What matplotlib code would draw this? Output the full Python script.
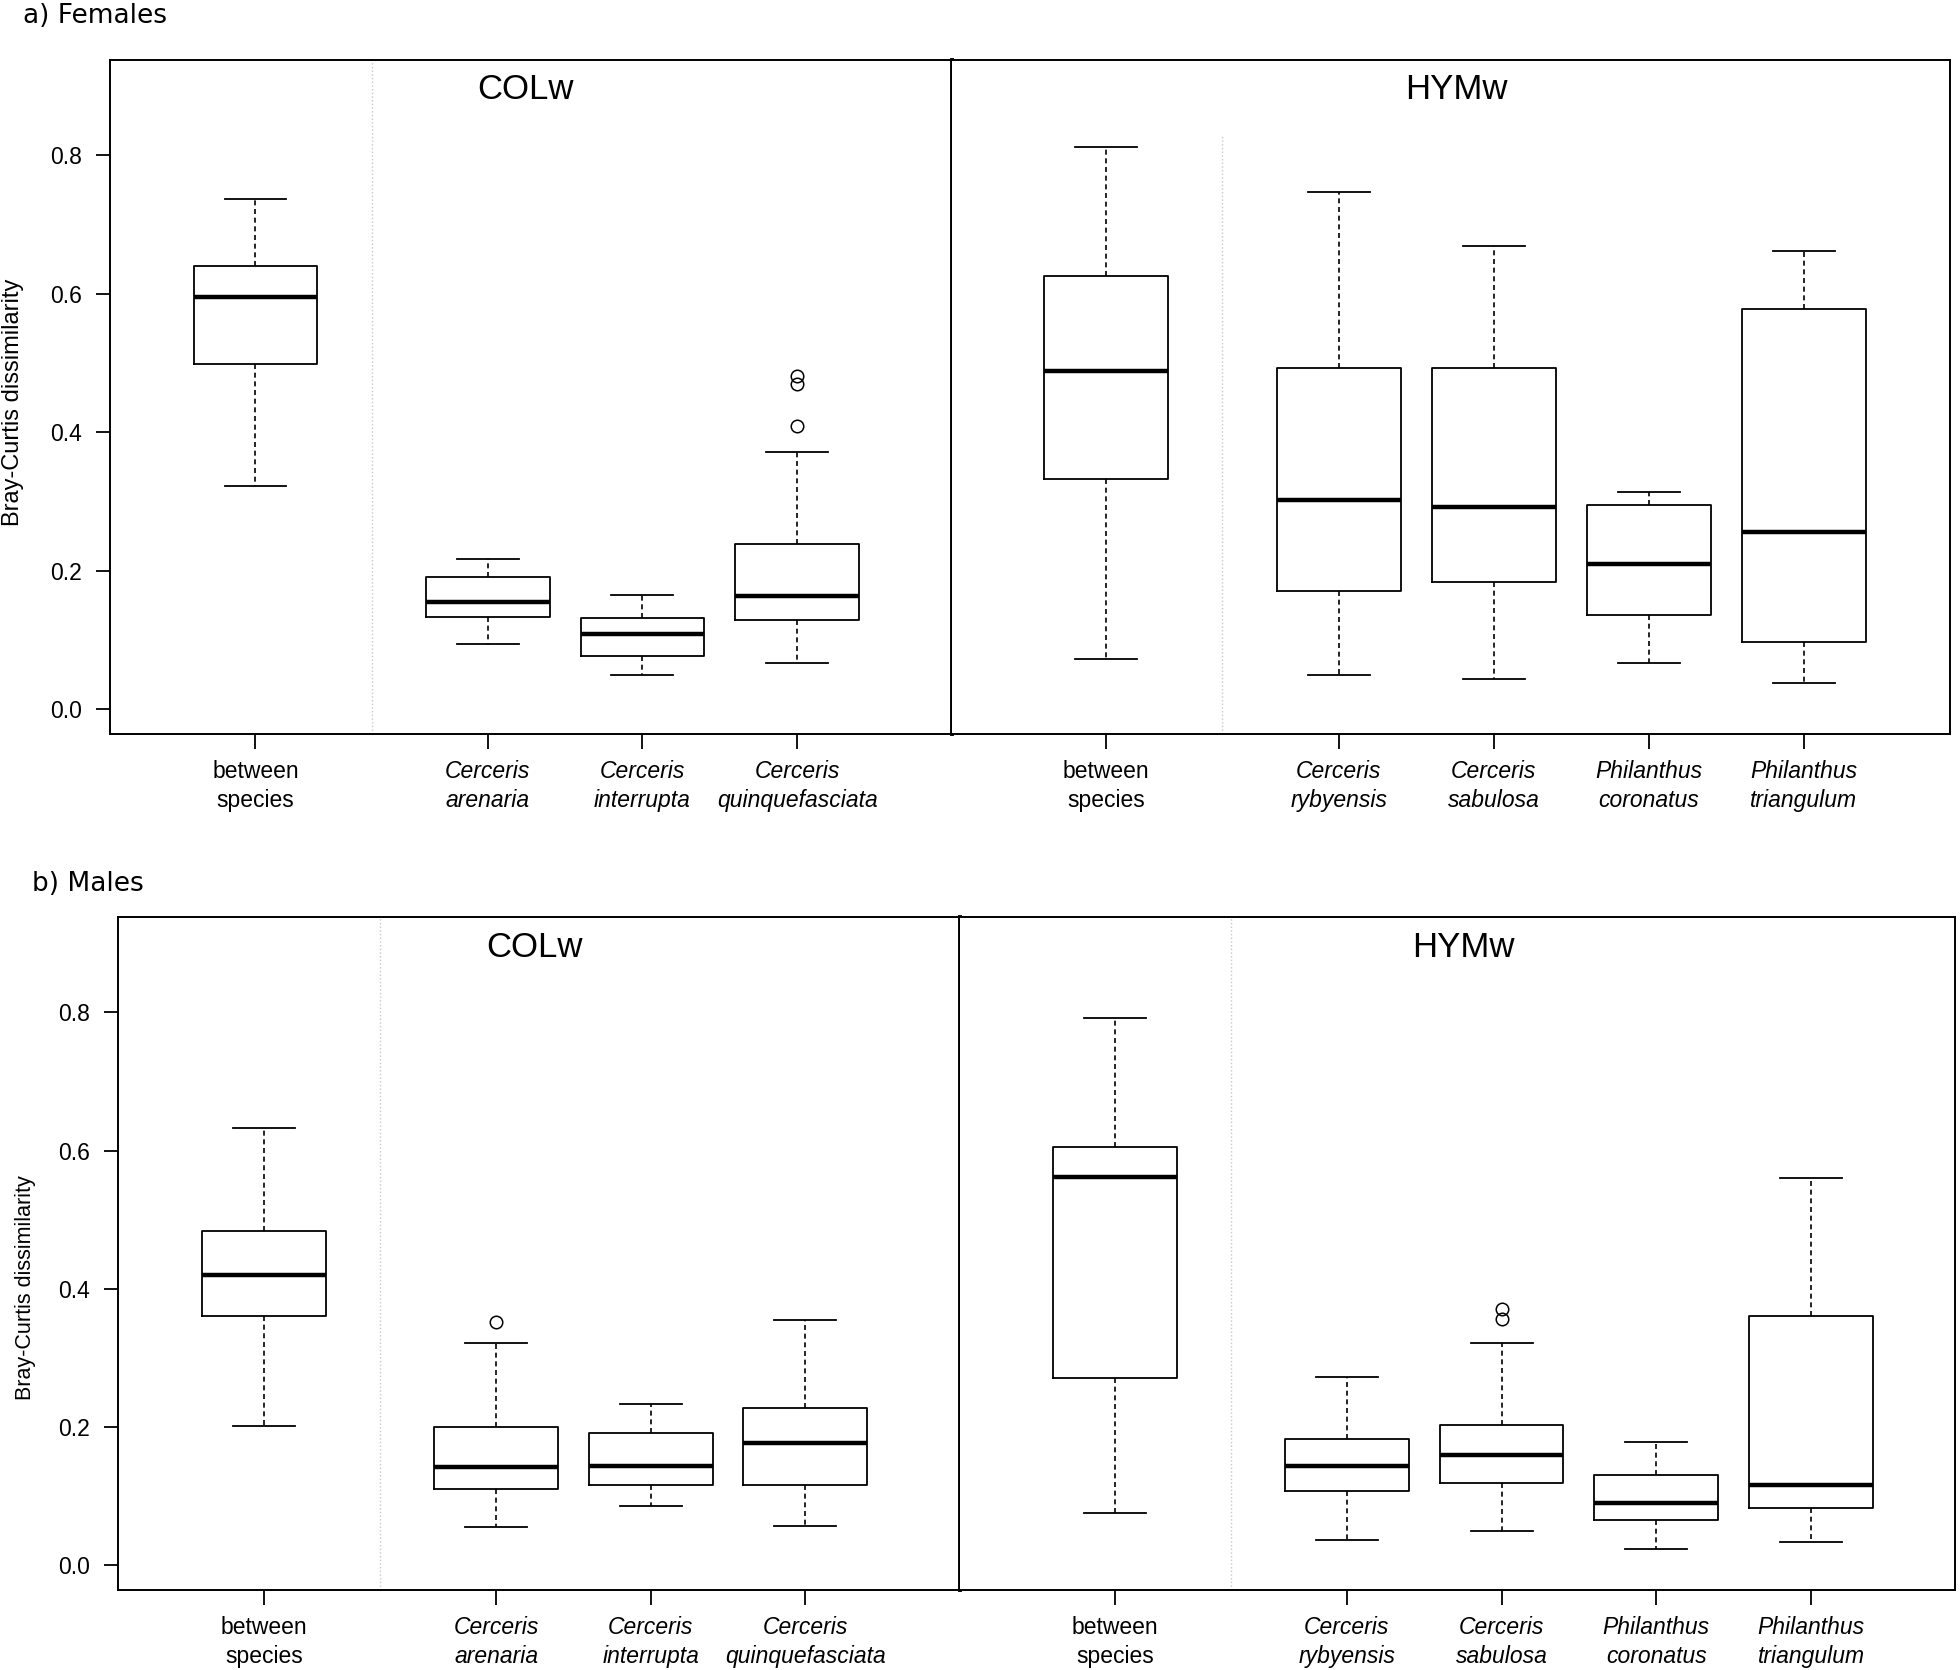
import matplotlib.pyplot as plt

plt.rcParams['font.family'] = ['Liberation Sans', 'DejaVu Sans']

# x labels
COL_LABELS = ["between\nspecies", "Cerceris\narenaria", "Cerceris\ninterrupta",
              "Cerceris\nquinquefasciata"]
HYM_LABELS = ["between\nspecies", "Cerceris\nrybyensis", "Cerceris\nsabulosa",
              "Philanthus\ncoronatus", "Philanthus\ntriangulum"]
COL_POS = [1, 2.5, 3.5, 4.5]
HYM_POS = [1, 2.5, 3.5, 4.5, 5.5]
Y_TICKS = [0.0, 0.2, 0.4, 0.6, 0.8]

# box summaries (lower whisker, Q1, median, Q3, upper whisker)
# a) Females, COLw
fcol_low = [0.322, 0.094, 0.049, 0.066]
fcol_q1 = [0.498, 0.133, 0.077, 0.129]
fcol_med = [0.595, 0.154, 0.108, 0.163]
fcol_q3 = [0.640, 0.191, 0.132, 0.239]
fcol_high = [0.736, 0.216, 0.165, 0.371]
fcol_out = [[], [], [], [0.481, 0.469, 0.409]]

# a) Females, HYMw
fhym_low = [0.073, 0.049, 0.043, 0.066, 0.037]
fhym_q1 = [0.332, 0.171, 0.183, 0.136, 0.097]
fhym_med = [0.488, 0.302, 0.292, 0.210, 0.256]
fhym_q3 = [0.625, 0.493, 0.493, 0.295, 0.578]
fhym_high = [0.811, 0.746, 0.668, 0.313, 0.661]
fhym_out = [[], [], [], [], []]

# b) Males, COLw
mcol_low = [0.201, 0.055, 0.085, 0.057]
mcol_q1 = [0.361, 0.110, 0.116, 0.116]
mcol_med = [0.420, 0.142, 0.144, 0.177]
mcol_q3 = [0.484, 0.200, 0.191, 0.228]
mcol_high = [0.632, 0.322, 0.233, 0.355]
mcol_out = [[], [0.352], [], []]

# b) Males, HYMw
mhym_low = [0.076, 0.037, 0.050, 0.023, 0.034]
mhym_q1 = [0.271, 0.108, 0.119, 0.065, 0.082]
mhym_med = [0.562, 0.144, 0.160, 0.090, 0.116]
mhym_q3 = [0.605, 0.183, 0.203, 0.131, 0.361]
mhym_high = [0.792, 0.272, 0.322, 0.178, 0.560]
mhym_out = [[], [], [0.371, 0.356], [], []]

W, H = 1960, 1670
YLIM = (-0.036, 0.938)


def make_stats(low, q1, med, q3, high, out):
    return [dict(whislo=a, q1=b, med=c, q3=d, whishi=e, fliers=f)
            for a, b, c, d, e, f in zip(low, q1, med, q3, high, out)]


def px_axes(fig, x0, x1, y0, y1):
    return fig.add_axes([x0 / W, 1 - y1 / H, (x1 - x0) / W, (y1 - y0) / H])


def draw_group(ax, stats, pos, labels, title, title_x, xlim, dot_top, show_y):
    ax.bxp(stats, positions=pos, widths=0.8, capwidths=0.4,
           boxprops=dict(color="black", linewidth=1.3),
           medianprops=dict(color="black", linewidth=3.2, solid_capstyle="butt"),
           whiskerprops=dict(color="black", linewidth=1.2, linestyle=(0, (3.0, 2.2))),
           capprops=dict(color="black", linewidth=1.3),
           flierprops=dict(marker="o", markerfacecolor="none", markeredgecolor="black",
                           markersize=9, markeredgewidth=1.1))
    ax.vlines(1.75, YLIM[0], dot_top, colors="#c8c8c8", linestyles=":", linewidth=1)
    ax.set_xlim(*xlim)
    ax.set_ylim(*YLIM)
    ax.set_xticks(pos)
    ax.set_xticklabels(labels, linespacing=1.3, fontsize=16.5)
    for i, t in enumerate(ax.get_xticklabels()):
        if i > 0:
            t.set_fontstyle("italic")
    ax.tick_params(axis="x", direction="out", length=11, width=1.3, pad=8)
    if show_y:
        ax.set_yticks(Y_TICKS)
        ax.set_yticklabels([f"{v:.1f}" for v in Y_TICKS], fontsize=16.5)
        ax.tick_params(axis="y", direction="out", length=10, width=1.3, pad=10)
    else:
        ax.set_yticks([])
    for s in ax.spines.values():
        s.set_linewidth(1.4)
    ax.text(title_x, 0.941, title, transform=ax.transAxes, ha="center", va="baseline",
            fontsize=25)


fig = plt.figure(figsize=(W / 100, H / 100), dpi=100)

# a) Females
ax1 = px_axes(fig, 110, 952, 59.5, 734)
ax2 = px_axes(fig, 952, 1950, 59.5, 734)
draw_group(ax1, make_stats(fcol_low, fcol_q1, fcol_med, fcol_q3, fcol_high, fcol_out),
           COL_POS, COL_LABELS, "COLw", 0.494, (0.06, 5.5), YLIM[1], True)
draw_group(ax2, make_stats(fhym_low, fhym_q1, fhym_med, fhym_q3, fhym_high, fhym_out),
           HYM_POS, HYM_LABELS, "HYMw", 0.505, (0.005, 6.445), 0.83, False)
ax1.spines["right"].set_linewidth(2.8)
ax2.spines["left"].set_visible(False)

# b) Males
ax3 = px_axes(fig, 117.5, 960, 917, 1590)
ax4 = px_axes(fig, 960, 1955, 917, 1590)
draw_group(ax3, make_stats(mcol_low, mcol_q1, mcol_med, mcol_q3, mcol_high, mcol_out),
           COL_POS, COL_LABELS, "COLw", 0.495, (0.052, 5.5), YLIM[1], True)
draw_group(ax4, make_stats(mhym_low, mhym_q1, mhym_med, mhym_q3, mhym_high, mhym_out),
           HYM_POS, HYM_LABELS, "HYMw", 0.506, (0.0, 6.43), YLIM[1], False)
ax3.spines["right"].set_linewidth(2.8)
ax4.spines["left"].set_visible(False)

fig.text(23 / W, 1 - 23 / H, "a) Females", family="DejaVu Sans", fontsize=19, va="baseline")
fig.text(32 / W, 1 - 891 / H, "b) Males", family="DejaVu Sans", fontsize=19, va="baseline")
fig.text(13 / W, 1 - 402 / H, "Bray-Curtis dissimilarity", rotation=90,
         ha="center", va="center", fontsize=17)
fig.text(25 / W, 1 - 1288 / H, "Bray-Curtis dissimilarity", rotation=90,
         ha="center", va="center", fontsize=15.5)

fig.savefig("out.png", dpi=100)
